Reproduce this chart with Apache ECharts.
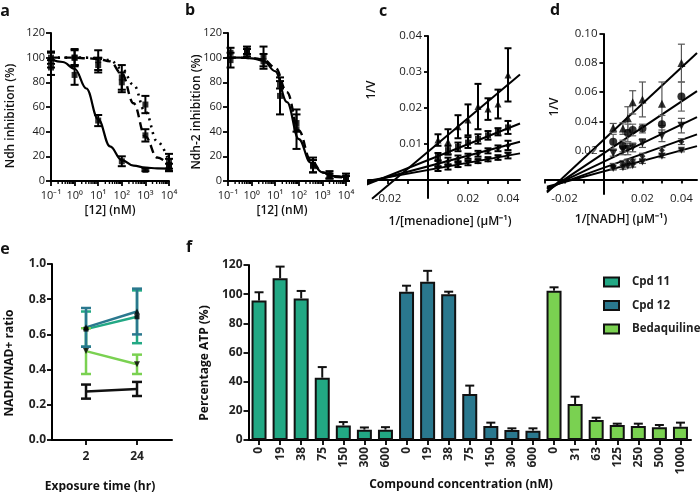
<!DOCTYPE html>
<html><head><meta charset="utf-8">
<script src="https://cdn.jsdelivr.net/npm/echarts@6/dist/echarts.min.js"></script>
<style>html,body{margin:0;padding:0;background:#fff}#c{width:700px;height:492px}</style>
</head><body><div id="c"></div>
<script>
// ---------- DATA ----------
// panel a
const logTickLabels = ['10⁻¹','10⁰','10¹','10²','10³','10⁴'];
const aConc = [0.1, 1, 10, 100, 1000, 10000];
const aSolidMean = [92, 86, 49, 16, 9, 11];
const aSolidSd = [6, 8, 4.5, 4, 1, 3];
const aDashMean = [100, 100, 94, 80, 37, 13];
const aDashSd = [5, 7, 6, 8, 5, 5];
const aDotMean = [98, 100, 98, 84, 62, 16];
const aDotSd = [6, 6, 8, 10, 7, 6];
const fitConc = [0.1, 0.316, 1, 3.16, 10, 31.6, 100, 316, 1000, 3162, 10000];
const aSolidFit = [98.5, 96.5, 91, 75, 50, 28, 17, 12.5, 10.8, 10.3, 10.1];
const aDashFit = [100, 100, 100, 99.5, 99, 97, 87, 63, 36, 19, 13];
const aDotFit = [100, 100, 100, 100, 99.5, 98, 91, 78, 56, 32, 16];
// panel b
const bConc = [0.128, 0.64, 3.2, 16, 80, 400, 2000, 10000];
const bSolidMean = [98, 104, 97, 69, 42, 13, 5, 3];
const bSolidSd = [6, 3, 6, 15, 16, 6, 3, 3];
const bDashMean = [104, 106, 101, 78, 47, 12, 4, 2];
const bDashSd = [4, 3, 8, 3, 7, 5, 2, 2];
const bSolidFit = [100, 100, 99.5, 97.5, 89, 64, 34, 15, 7, 4, 3];
const bDashFit = [100, 100, 99.7, 98.5, 92, 72, 41, 17, 7, 3.5, 2.5];
// panel c
const cX = [0.005, 0.01, 0.015, 0.02, 0.025, 0.03, 0.035, 0.04];
const cTri = [0.0111, 0.0106, 0.0148, 0.0167, 0.0204, 0.0197, 0.0211, 0.0292];
const cTriSd = [0.0016, 0.0035, 0.0032, 0.0043, 0.0063, 0.003, 0.004, 0.0074];
const cSq = [0.0065, 0.0083, 0.0092, 0.0104, 0.0114, 0.0124, 0.0134, 0.0146];
const cSqSd = [0.001, 0.0012, 0.0012, 0.0015, 0.0013, 0.0012, 0.001, 0.0018];
const cDia = [0.0045, 0.0052, 0.006, 0.0066, 0.0073, 0.0081, 0.0088, 0.0096];
const cDiaSd = [0.0008, 0.001, 0.0008, 0.0007, 0.0008, 0.0007, 0.0008, 0.0013];
const cInv = [0.0031, 0.0036, 0.0042, 0.0047, 0.0052, 0.0057, 0.0062, 0.0068];
const cInvSd = [0.0006, 0.0007, 0.0006, 0.0006, 0.0005, 0.0005, 0.0006, 0.0008];
const cFitTri = [[-0.028, -0.0052], [0.046, 0.0293]];
const cFitSq = [[-0.0317, -0.0015], [0.046, 0.0157]];
const cFitDia = [[-0.0317, -0.0009], [0.046, 0.0106]];
const cFitInv = [[-0.0317, -0.0004], [0.046, 0.0074]];
const cXRange = [-0.03, 0.046], cYRange = [-0.005, 0.04];
const cXTicks = [-0.03, -0.02, -0.01, 0, 0.01, 0.02, 0.03, 0.04];
const cXLabels = [-0.02, 0.02, 0.04];
const cYLabels = [0.01, 0.02, 0.03, 0.04];
// panel d
const dX = [0.005, 0.01, 0.0125, 0.015, 0.02, 0.03, 0.04];
const dTri = [0.0355, 0.035, 0.042, 0.053, 0.055, 0.052, 0.08];
const dTriSd = [0.003, 0.004, 0.008, 0.008, 0.012, 0.015, 0.013];
const dCirc = [0.026, 0.023, 0.032, 0.034, 0.035, 0.038, 0.057];
const dCircSd = [0.005, 0.004, 0.006, 0.004, 0.003, 0.006, 0.01];
const dInv1 = [0.018, 0.02, 0.021, 0.022, 0.025, 0.03, 0.037];
const dInv1Sd = [0.002, 0.003, 0.004, 0.003, 0.003, 0.004, 0.005];
const dDia = [0.009, 0.011, 0.012, 0.013, 0.016, 0.02, 0.026];
const dDiaSd = [0.002, 0.002, 0.002, 0.001, 0.002, 0.002, 0.002];
const dInv2 = [0.0075, 0.008, 0.009, 0.0095, 0.012, 0.016, 0.02];
const dInv2Sd = [0.001, 0.001, 0.001, 0.001, 0.001, 0.001, 0.001];
const dFitTri = [[-0.029, -0.009], [0.048, 0.087]];
const dFitCirc = [[-0.029, -0.008], [0.048, 0.0607]];
const dFitInv1 = [[-0.029, -0.0065], [0.048, 0.0428]];
const dFitDia = [[-0.029, -0.006], [0.048, 0.031]];
const dFitInv2 = [[-0.029, -0.005], [0.048, 0.0229]];
const dXRange = [-0.03, 0.048], dYRange = [-0.01, 0.10];
const dXTicks = [-0.03, -0.02, -0.01, 0, 0.01, 0.02, 0.03, 0.04];
const dXLabels = [-0.02, 0.02, 0.04];
const dYLabels = [0.02, 0.04, 0.06, 0.08, 0.10];
// panel e
const eTimes = ['2', '24'];
const eCpd12 = [0.64, 0.73], eCpd12Sd = [0.11, 0.13];
const eCpd11 = [0.63, 0.70], eCpd11Sd = [0.10, 0.15];
const eBdq = [0.505, 0.43], eBdqSd = [0.13, 0.055];
const eCtrl = [0.275, 0.29], eCtrlSd = [0.04, 0.04];
// panel f
const fCpdConc = ['0', '19', '38', '75', '150', '300', '600'];
const fBdqConc = ['0', '31', '63', '125', '250', '500', '1000'];
const fCpd11 = [95.6, 110.9, 97.1, 42.7, 10, 7.1, 7.1];
const fCpd11Sd = [5.7, 8, 5.1, 7.3, 2.3, 1.5, 1.7];
const fCpd12 = [101.7, 108.6, 99.9, 31.5, 9.6, 6.9, 6.4];
const fCpd12Sd = [4.1, 7.4, 1.8, 5.8, 2.3, 1.1, 1.6];
const fBdq = [102.4, 24.7, 13.7, 10.3, 9.6, 8.7, 9.1];
const fBdqSd = [2.3, 5, 1.6, 0.9, 1.6, 1.6, 2.8];

// ---------- STYLE ----------
const FONT = 'Open Sans';
const C11 = '#22a884', C12 = '#2a788e', CBDQ = '#7ad151';
const INV = 'path://M0,0L10,0L5,9Z';
const GRIDS = [
  { left: 51, top: 33, width: 118, height: 148 },
  { left: 228, top: 33, width: 118, height: 148 },
  { left: 368, top: 36, width: 152, height: 162 },
  { left: 545, top: 34, width: 152, height: 160 },
  { left: 52, top: 264, width: 120, height: 176 },
  { left: 248.5, top: 265, width: 442.5, height: 175 }
];
// pixel offsets that put the axes of the Lineweaver-Burk panels through zero
const zeroOffX = (g, r) => -g.width * (0 - r[0]) / (r[1] - r[0]);
const zeroOffY = (g, r) => -g.height * (0 - r[0]) / (r[1] - r[0]);

const zip = (xs, ys) => xs.map((x, i) => [x, ys[i]]);
const zip3 = (xs, ys, es) => xs.map((x, i) => [x, ys[i], es[i]]);

function ax(o) {
  const a = {
    splitLine: { show: false },
    axisLine: { show: true, onZero: false, lineStyle: { color: '#000', width: 2 } },
    axisTick: Object.assign({ show: true, length: 4, lineStyle: { color: '#000', width: 1.8 } }, o.tick || {}),
    axisLabel: Object.assign({ color: '#1a1a1a', fontSize: 11, fontFamily: FONT }, o.label || {})
  };
  ['type', 'gridIndex', 'min', 'max', 'interval', 'data', 'position', 'logBase', 'boundaryGap', 'offset', 'splitNumber'].forEach(k => { if (o[k] !== undefined) a[k] = o[k]; });
  return a;
}

function errSeries(xi, yi, data, opts) {
  return {
    type: 'custom', xAxisIndex: xi, yAxisIndex: yi, data: data, z: 3, clip: false, silent: true,
    encode: { x: 0, y: 1 },
    renderItem: function (params, api) {
      const x = api.value(0), y = api.value(1), e = api.value(2);
      const c = api.coord([x, y]);
      const hi = api.coord([x, y + e]);
      const lo = opts.upOnly ? c : api.coord([x, y - e]);
      const st = { stroke: opts.color || '#000', lineWidth: opts.lw || 2 };
      const ch = [
        { type: 'line', shape: { x1: c[0], y1: lo[1], x2: c[0], y2: hi[1] }, style: st },
        { type: 'line', shape: { x1: c[0] - opts.cap, y1: hi[1], x2: c[0] + opts.cap, y2: hi[1] }, style: st }
      ];
      if (!opts.upOnly) ch.push({ type: 'line', shape: { x1: c[0] - opts.cap, y1: lo[1], x2: c[0] + opts.cap, y2: lo[1] }, style: st });
      return { type: 'group', children: ch };
    }
  };
}
function pts(xi, yi, data, symbol, size, color) {
  return { type: 'scatter', xAxisIndex: xi, yAxisIndex: yi, data: data, symbol: symbol, symbolSize: size,
    itemStyle: { color: color || '#000' }, z: 4, silent: true, clip: false };
}
function line(xi, yi, data, type, width, color, smooth) {
  return { type: 'line', xAxisIndex: xi, yAxisIndex: yi, data: data, symbol: 'none', smooth: smooth || false,
    smoothMonotone: 'x', clip: false, silent: true, z: 2,
    lineStyle: { color: color || '#000', width: width || 2, type: type || 'solid' } };
}
const logMinor = [];
for (let d = -1; d < 4; d++) for (let m = 2; m <= 9; m++) logMinor.push(m * Math.pow(10, d));
function minorTicks(xi, yi) {
  return { type: 'custom', xAxisIndex: xi, yAxisIndex: yi, silent: true, clip: false, z: 5,
    data: logMinor.map(v => [v, 0]), encode: { x: 0, y: 1 },
    renderItem: (p, api) => { const c = api.coord([api.value(0), 0]);
      return { type: 'line', shape: { x1: c[0], y1: c[1], x2: c[0], y2: c[1] + 3 }, style: { stroke: '#000', lineWidth: 1.4 } }; } };
}
function T(text, x, y, o) {
  o = o || {};
  return { type: 'text', x: x, y: y, rotation: o.rot || 0, z: 10, silent: true,
    style: { text: text, fill: '#111', font: (o.weight || 600) + ' ' + (o.size || 12) + 'px "Open Sans"',
      textAlign: 'center', textVerticalAlign: 'middle', align: 'center', verticalAlign: 'middle' } };
}

const logFmt = v => logTickLabels[Math.round(Math.log10(v)) + 1];
const fix2 = v => v.toFixed(2);

const fLabels = fCpdConc.concat(fCpdConc, fBdqConc);
const pad = (arr, start) => fLabels.map((_, i) => (i >= start && i < start + arr.length) ? arr[i - start] : '-');
const padErr = (arr, sd, start) => arr.map((v, i) => [start + i, v, sd[i]]);

const boldLab = { fontWeight: 'bold', fontSize: 12, color: '#222' };

const option = {
  animation: false,
  backgroundColor: '#fff',
  textStyle: { fontFamily: FONT },
  grid: GRIDS,
  xAxis: [
    ax({ type: 'log', gridIndex: 0, min: 0.1, max: 10000, logBase: 10, tick: { length: 5 }, label: { formatter: logFmt, margin: 9, fontSize: 11 } }),
    ax({ type: 'log', gridIndex: 1, min: 0.1, max: 10000, logBase: 10, tick: { length: 5 }, label: { formatter: logFmt, margin: 9, fontSize: 11 } }),
    ax({ type: 'value', gridIndex: 2, min: cXRange[0], max: cXRange[1], position: 'bottom', offset: zeroOffY(GRIDS[2], cYRange), tick: { customValues: cXTicks }, label: { customValues: cXLabels, formatter: fix2, margin: 13, fontSize: 11.5 } }),
    ax({ type: 'value', gridIndex: 3, min: dXRange[0], max: dXRange[1], position: 'bottom', offset: zeroOffY(GRIDS[3], dYRange), tick: { customValues: dXTicks }, label: { customValues: dXLabels, formatter: fix2, margin: 13, fontSize: 11.5 } }),
    ax({ type: 'value', gridIndex: 4, min: -0.667, max: 1.686, tick: { customValues: [0, 1], length: 5 }, label: Object.assign({ customValues: [0, 1], formatter: v => eTimes[Math.round(v)], margin: 11 }, boldLab) }),
    ax({ type: 'category', gridIndex: 5, data: fLabels, boundaryGap: true, tick: { alignWithLabel: true, length: 5, interval: 0 }, label: Object.assign({ rotate: 90, interval: 0, margin: 7 }, boldLab) })
  ],
  yAxis: [
    ax({ type: 'value', gridIndex: 0, min: 0, max: 120, interval: 20, tick: { length: 5 }, label: { margin: 6 } }),
    ax({ type: 'value', gridIndex: 1, min: 0, max: 120, interval: 20, tick: { length: 5 }, label: { margin: 6 } }),
    ax({ type: 'value', gridIndex: 2, min: cYRange[0], max: cYRange[1], position: 'left', offset: zeroOffX(GRIDS[2], cXRange), tick: { customValues: cYLabels }, label: { customValues: cYLabels, formatter: fix2, margin: 6, fontSize: 11.5 } }),
    ax({ type: 'value', gridIndex: 3, min: dYRange[0], max: dYRange[1], position: 'left', offset: zeroOffX(GRIDS[3], dXRange), tick: { customValues: dYLabels }, label: { customValues: dYLabels, formatter: fix2, margin: 6, fontSize: 11.5 } }),
    ax({ type: 'value', gridIndex: 4, min: 0, max: 1, interval: 0.2, tick: { length: 5 }, label: Object.assign({ formatter: v => v.toFixed(1), margin: 6 }, boldLab) }),
    ax({ type: 'value', gridIndex: 5, min: 0, max: 120, interval: 20, tick: { length: 5 }, label: Object.assign({ margin: 6 }, boldLab) })
  ],
  legend: {
    data: ['Cpd 11', 'Cpd 12', 'Bedaquiline'], orient: 'vertical', left: 603, top: 276, padding: 0,
    itemWidth: 15, itemHeight: 9, itemGap: 11.5, icon: 'rect',
    textStyle: { fontFamily: FONT, fontWeight: 'bold', fontSize: 11.5, color: '#222', padding: [0, 0, 0, 8] }
  },
  series: [
    // ---- a ----
    minorTicks(0, 0),
    line(0, 0, zip(fitConc, aSolidFit), 'solid', 2.2, '#000', 0.4),
    line(0, 0, zip(fitConc, aDashFit), [8, 5], 2.4, '#000', 0.4),
    line(0, 0, zip(fitConc, aDotFit), [2, 5], 2.6, '#000', 0.4),
    errSeries(0, 0, zip3(aConc, aSolidMean, aSolidSd), { cap: 4 }),
    errSeries(0, 0, zip3(aConc, aDashMean, aDashSd), { cap: 4 }),
    errSeries(0, 0, zip3(aConc, aDotMean, aDotSd), { cap: 4 }),
    pts(0, 0, zip(aConc, aSolidMean), 'rect', 6),
    pts(0, 0, zip(aConc, aDashMean), 'rect', 6),
    pts(0, 0, zip(aConc, aDotMean), 'rect', 6),
    // ---- b ----
    minorTicks(1, 1),
    line(1, 1, zip(fitConc, bSolidFit), 'solid', 2.2, '#000', 0.4),
    line(1, 1, zip(fitConc, bDashFit), [8, 5], 2.4, '#000', 0.4),
    errSeries(1, 1, zip3(bConc, bSolidMean, bSolidSd), { cap: 4 }),
    errSeries(1, 1, zip3(bConc, bDashMean, bDashSd), { cap: 4 }),
    pts(1, 1, zip(bConc, bSolidMean), 'rect', 6),
    pts(1, 1, zip(bConc, bDashMean), 'rect', 6),
    // ---- c ----
    line(2, 2, cFitTri, 'solid', 2),
    line(2, 2, cFitSq, 'solid', 2),
    line(2, 2, cFitDia, 'solid', 2),
    line(2, 2, cFitInv, 'solid', 2),
    errSeries(2, 2, zip3(cX, cTri, cTriSd), { cap: 3.5 }),
    errSeries(2, 2, zip3(cX, cSq, cSqSd), { cap: 3.5 }),
    errSeries(2, 2, zip3(cX, cDia, cDiaSd), { cap: 3.5 }),
    errSeries(2, 2, zip3(cX, cInv, cInvSd), { cap: 3.5 }),
    pts(2, 2, zip(cX, cTri), 'triangle', 7),
    pts(2, 2, zip(cX, cSq), 'rect', 6),
    pts(2, 2, zip(cX, cDia), 'diamond', 6),
    pts(2, 2, zip(cX, cInv), INV, 7),
    // ---- d ----
    line(3, 3, dFitTri, 'solid', 2),
    line(3, 3, dFitCirc, 'solid', 2),
    line(3, 3, dFitInv1, 'solid', 2),
    line(3, 3, dFitDia, 'solid', 2),
    line(3, 3, dFitInv2, 'solid', 2),
    errSeries(3, 3, zip3(dX, dTri, dTriSd), { cap: 3.5, color: '#555', lw: 1.2 }),
    errSeries(3, 3, zip3(dX, dCirc, dCircSd), { cap: 3.5, color: '#666', lw: 1.2 }),
    errSeries(3, 3, zip3(dX, dInv1, dInv1Sd), { cap: 3.5, color: '#555', lw: 1.2 }),
    errSeries(3, 3, zip3(dX, dDia, dDiaSd), { cap: 3.5, color: '#555', lw: 1.2 }),
    errSeries(3, 3, zip3(dX, dInv2, dInv2Sd), { cap: 3.5, color: '#555', lw: 1.2 }),
    pts(3, 3, zip(dX, dTri), 'triangle', 8),
    pts(3, 3, zip(dX, dCirc), 'circle', 8),
    pts(3, 3, zip(dX, dInv1), INV, 8),
    pts(3, 3, zip(dX, dDia), 'diamond', 6),
    pts(3, 3, zip(dX, dInv2), INV, 7),
    // ---- e ----
    line(4, 4, zip([0, 1], eCtrl), 'solid', 2.5, '#111'),
    line(4, 4, zip([0, 1], eBdq), 'solid', 2.5, CBDQ),
    line(4, 4, zip([0, 1], eCpd11), 'solid', 2.5, C11),
    line(4, 4, zip([0, 1], eCpd12), 'solid', 2.5, C12),
    errSeries(4, 4, zip3([0, 1], eCtrl, eCtrlSd), { cap: 5, color: '#111', lw: 2.5 }),
    errSeries(4, 4, zip3([0, 1], eBdq, eBdqSd), { cap: 5, color: CBDQ, lw: 2.5 }),
    errSeries(4, 4, zip3([0, 1], eCpd11, eCpd11Sd), { cap: 5, color: C11, lw: 2.5 }),
    errSeries(4, 4, zip3([0, 1], eCpd12, eCpd12Sd), { cap: 5, color: C12, lw: 2.5 }),
    pts(4, 4, zip([0, 1], eBdq), INV, 6),
    pts(4, 4, zip([0, 1], eCpd11), 'rect', 5),
    pts(4, 4, zip([0, 1], eCpd12), 'triangle', 6),
    // ---- f ----
    { type: 'bar', name: 'Cpd 11', xAxisIndex: 5, yAxisIndex: 5, data: pad(fCpd11, 0), barWidth: 15, barGap: '-100%', z: 2,
      itemStyle: { color: C11, borderColor: '#111', borderWidth: 2 } },
    { type: 'bar', name: 'Cpd 12', xAxisIndex: 5, yAxisIndex: 5, data: pad(fCpd12, 7), barWidth: 15, barGap: '-100%', z: 2,
      itemStyle: { color: C12, borderColor: '#111', borderWidth: 2 } },
    { type: 'bar', name: 'Bedaquiline', xAxisIndex: 5, yAxisIndex: 5, data: pad(fBdq, 14), barWidth: 15, barGap: '-100%', z: 2,
      itemStyle: { color: CBDQ, borderColor: '#111', borderWidth: 2 } },
    errSeries(5, 5, padErr(fCpd11, fCpd11Sd, 0), { cap: 4.5, upOnly: true, lw: 2, color: '#111' }),
    errSeries(5, 5, padErr(fCpd12, fCpd12Sd, 7), { cap: 4.5, upOnly: true, lw: 2, color: '#111' }),
    errSeries(5, 5, padErr(fBdq, fBdqSd, 14), { cap: 4.5, upOnly: true, lw: 2, color: '#111' })
  ],
  graphic: [
    T('a', 5, 11, { weight: 'bold', size: 16 }),
    T('b', 190, 10, { weight: 'bold', size: 16 }),
    T('c', 383, 11, { weight: 'bold', size: 16 }),
    T('d', 555, 10, { weight: 'bold', size: 16 }),
    T('e', 5, 249, { weight: 'bold', size: 16 }),
    T('f', 189, 247, { weight: 'bold', size: 16 }),
    T('[12] (nM)', 110, 211),
    T('[12] (nM)', 282, 211),
    T('Ndh inhibition (%)', 11, 116, { rot: Math.PI / 2 }),
    T('Ndh-2 inhibition (%)', 197, 112, { rot: Math.PI / 2 }),
    T('1/[menadione] (µM⁻¹)', 450, 222),
    T('1/V', 372, 90, { rot: Math.PI / 2 }),
    T('1/[NADH] (µM⁻¹)', 621, 220),
    T('1/V', 555, 107, { rot: Math.PI / 2 }),
    T('NADH/NAD+ ratio', 10, 363, { rot: Math.PI / 2, weight: 'bold' }),
    T('Exposure time (hr)', 100, 487, { weight: 'bold' }),
    T('Percentage ATP (%)', 205, 363, { rot: Math.PI / 2, weight: 'bold' }),
    T('Compound concentration (nM)', 461, 485, { weight: 'bold' })
  ]
};
const chart = echarts.init(document.getElementById('c'), null, { renderer: 'canvas' });
chart.setOption(option);
</script>
</body></html>
